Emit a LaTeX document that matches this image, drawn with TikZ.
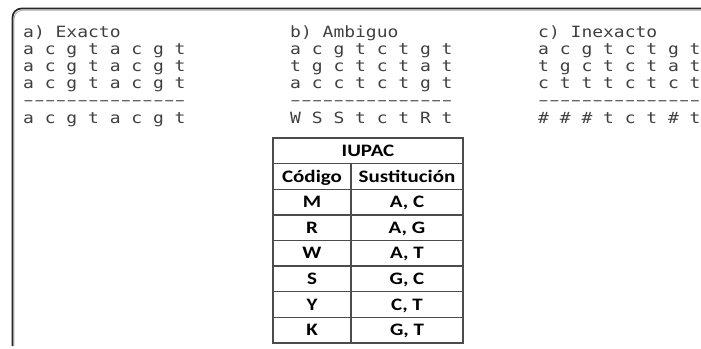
\documentclass[tikz,border=0pt]{standalone}
\usepackage{fontspec}
\usepackage{graphicx}
\newfontfamily\seqfont[FakeStretch=1.16]{DejaVu Sans Mono}
\newfontfamily\tabfont[FakeStretch=1.2]{Carlito}
\newcommand\hy{\makebox[10.82pt]{\scalebox{0.72}[1]{\symbol{"2013}}}}
\newcommand\dashrow{\hy\hy\hy\hy\hy\hy\hy\hy\hy\hy\hy\hy\hy\hy\hy}
\begin{document}
\begin{tikzpicture}[x=1pt,y=-1pt,
  seq/.style={anchor=base west,inner sep=0pt,font=\seqfont\fontsize{15.5}{15.5}\selectfont,text=black!75},
  cell/.style={anchor=base,inner sep=0pt,text=black,font=\tabfont\bfseries\fontsize{17.5}{17.5}\selectfont},
  frameline/.style={line width=1.7pt,black!85},
  tabline/.style={line width=1.3pt,black!70}]
\useasboundingbox (0,0) rectangle (701,348);
% frame
\draw[black!35,line width=0.8pt,rounded corners=9pt] (14,346) |- (701,10.2);
\draw[frameline,rounded corners=9pt] (12.5,346) |- (701,8.5);
% block a
\node[seq] (at) at (23,37) {a) Exacto};
\node[seq] (a1) at (23,54) {a c g t a c g t};
\node[seq] (a2) at (23,71) {a c g t a c g t};
\node[seq] (a3) at (23,88) {a c g t a c g t};
\node[seq] (ad) at (23,105) {\dashrow};
\node[seq] (ar) at (23,123) {a c g t a c g t};
% block b
\node[seq] (bt) at (290,37) {b) Ambiguo};
\node[seq] (b1) at (290,54) {a c g t c t g t};
\node[seq] (b2) at (290,71) {t g c t c t a t};
\node[seq] (b3) at (290,88) {a c c t c t g t};
\node[seq] (bd) at (290,105) {\dashrow};
\node[seq] (br) at (290,123) {W S S t c t R t};
% block c
\node[seq] (ct) at (538,37) {c) Inexacto};
\node[seq] (c1) at (538,54) {a c g t c t g t};
\node[seq] (c2) at (538,71) {t g c t c t a t};
\node[seq] (c3) at (538,88) {c t t t c t c t};
\node[seq] (cd) at (538,105) {\dashrow};
\node[seq] (cr) at (538,123) {\# \# \# t c t \# t};
% table
\draw[tabline] (273,138) rectangle (463,343);
\foreach \k in {1,...,7} \draw[tabline] (273,{138+25.625*\k}) -- (463,{138+25.625*\k});
\draw[tabline] (351,163.6) -- (351,343);
\node[cell] (iu) at (368,156.5) {IUPAC};
\node[cell] (h1) at (312,182.1) {Código};
\node[cell] (h2) at (407,182.1) {Sustitución};
\foreach \c/\s [count=\i] in {M/{A, C},R/{A, G},W/{A, T},S/{G, C},Y/{C, T},K/{G, T}} {
  \node[cell] (k\i) at (312,{182.1+25.625*\i}) {\c};
  \node[cell] (v\i) at (407,{182.1+25.625*\i}) {\s};
}
\end{tikzpicture}
\end{document}
